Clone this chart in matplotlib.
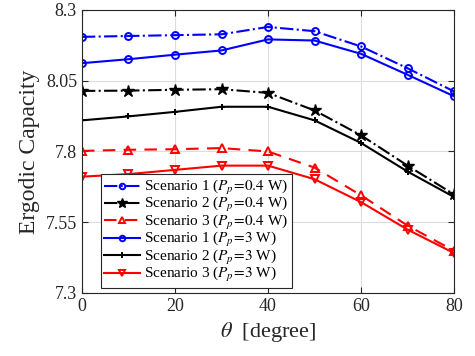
import matplotlib
matplotlib.use("Agg")
import matplotlib.pyplot as plt

plt.rcParams['font.family'] = ['Liberation Serif', 'DejaVu Serif']
plt.rcParams['mathtext.fontset'] = 'stix'

theta = [0, 10, 20, 30, 40, 50, 60, 70, 80]

s1_low = [8.205, 8.208, 8.211, 8.214, 8.240, 8.225, 8.171, 8.094, 8.012]
s2_low = [8.014, 8.015, 8.018, 8.020, 8.007, 7.945, 7.857, 7.750, 7.648]
s3_low = [7.802, 7.806, 7.808, 7.812, 7.800, 7.743, 7.645, 7.538, 7.449]
s1_high = [8.112, 8.126, 8.142, 8.157, 8.196, 8.192, 8.145, 8.071, 7.995]
s2_high = [7.910, 7.924, 7.940, 7.958, 7.958, 7.910, 7.830, 7.729, 7.639]
s3_high = [7.711, 7.720, 7.735, 7.750, 7.750, 7.702, 7.621, 7.524, 7.441]

yticks = [7.3, 7.55, 7.8, 8.05, 8.3]
ytick_labels = ['7.3', '7.55', '7.8', '8.05', '8.3']

fig = plt.figure(figsize=(4.75, 3.56), dpi=100)
ax = fig.add_axes([0.1726, 0.177, 0.7834, 0.795])

lw = 1.5
ax.plot(theta, s1_low, color='#0000ff', linestyle='-.', marker='o', markersize=5,
        markerfacecolor='none', markeredgewidth=1.4, linewidth=lw,
        label=r'Scenario 1 ($P_p\!=\!0.4$ W)')
ax.plot(theta, s2_low, color='black', linestyle='-.', marker='*', markersize=9,
        linewidth=lw, label=r'Scenario 2 ($P_p\!=\!0.4$ W)')
ax.plot(theta, s3_low, color='#ff0000', linestyle=(0, (6, 4)), marker='^', markersize=6,
        markerfacecolor='none', markeredgewidth=1.4, linewidth=lw,
        label=r'Scenario 3 ($P_p\!=\!0.4$ W)')
ax.plot(theta, s1_high, color='#0000ff', linestyle='-', marker='o', markersize=5,
        markerfacecolor='none', markeredgewidth=1.4, linewidth=lw,
        label=r'Scenario 1 ($P_p\!=\!3$ W)')
ax.plot(theta, s2_high, color='black', linestyle='-', marker='+', markersize=5,
        markeredgewidth=1.4, linewidth=lw, label=r'Scenario 2 ($P_p\!=\!3$ W)')
ax.plot(theta, s3_high, color='#ff0000', linestyle='-', marker='v', markersize=6,
        markerfacecolor='none', markeredgewidth=1.4, linewidth=lw,
        label=r'Scenario 3 ($P_p\!=\!3$ W)')

ax.set_xlim(0, 80)
ax.set_ylim(7.3, 8.3)
ax.set_xticks([0, 20, 40, 60, 80])
ax.set_yticks(yticks)
ax.set_yticklabels(ytick_labels)
ax.grid(True, color='#dddddd', linewidth=0.8)
ax.set_axisbelow(True)
ax.tick_params(direction='in', top=True, right=True, labelsize=13, colors='#262626', length=4)
for s in ax.spines.values():
    s.set_color('#262626')
    s.set_linewidth(0.8)

ax.set_xlabel(r'$\theta$  [degree]', fontsize=16, color='#262626')
ax.set_ylabel('Ergodic Capacity', fontsize=17, color='#262626')

leg = ax.legend(loc='lower left', bbox_to_anchor=(0.05, 0.017), borderaxespad=0,
                fontsize=11, fancybox=False, edgecolor='#262626', framealpha=1,
                handlelength=2.3, labelspacing=-0.1, borderpad=0.25, handletextpad=0.3,
                markerscale=0.8)
leg.get_frame().set_linewidth(0.8)

fig.savefig('out.png', dpi=100)
